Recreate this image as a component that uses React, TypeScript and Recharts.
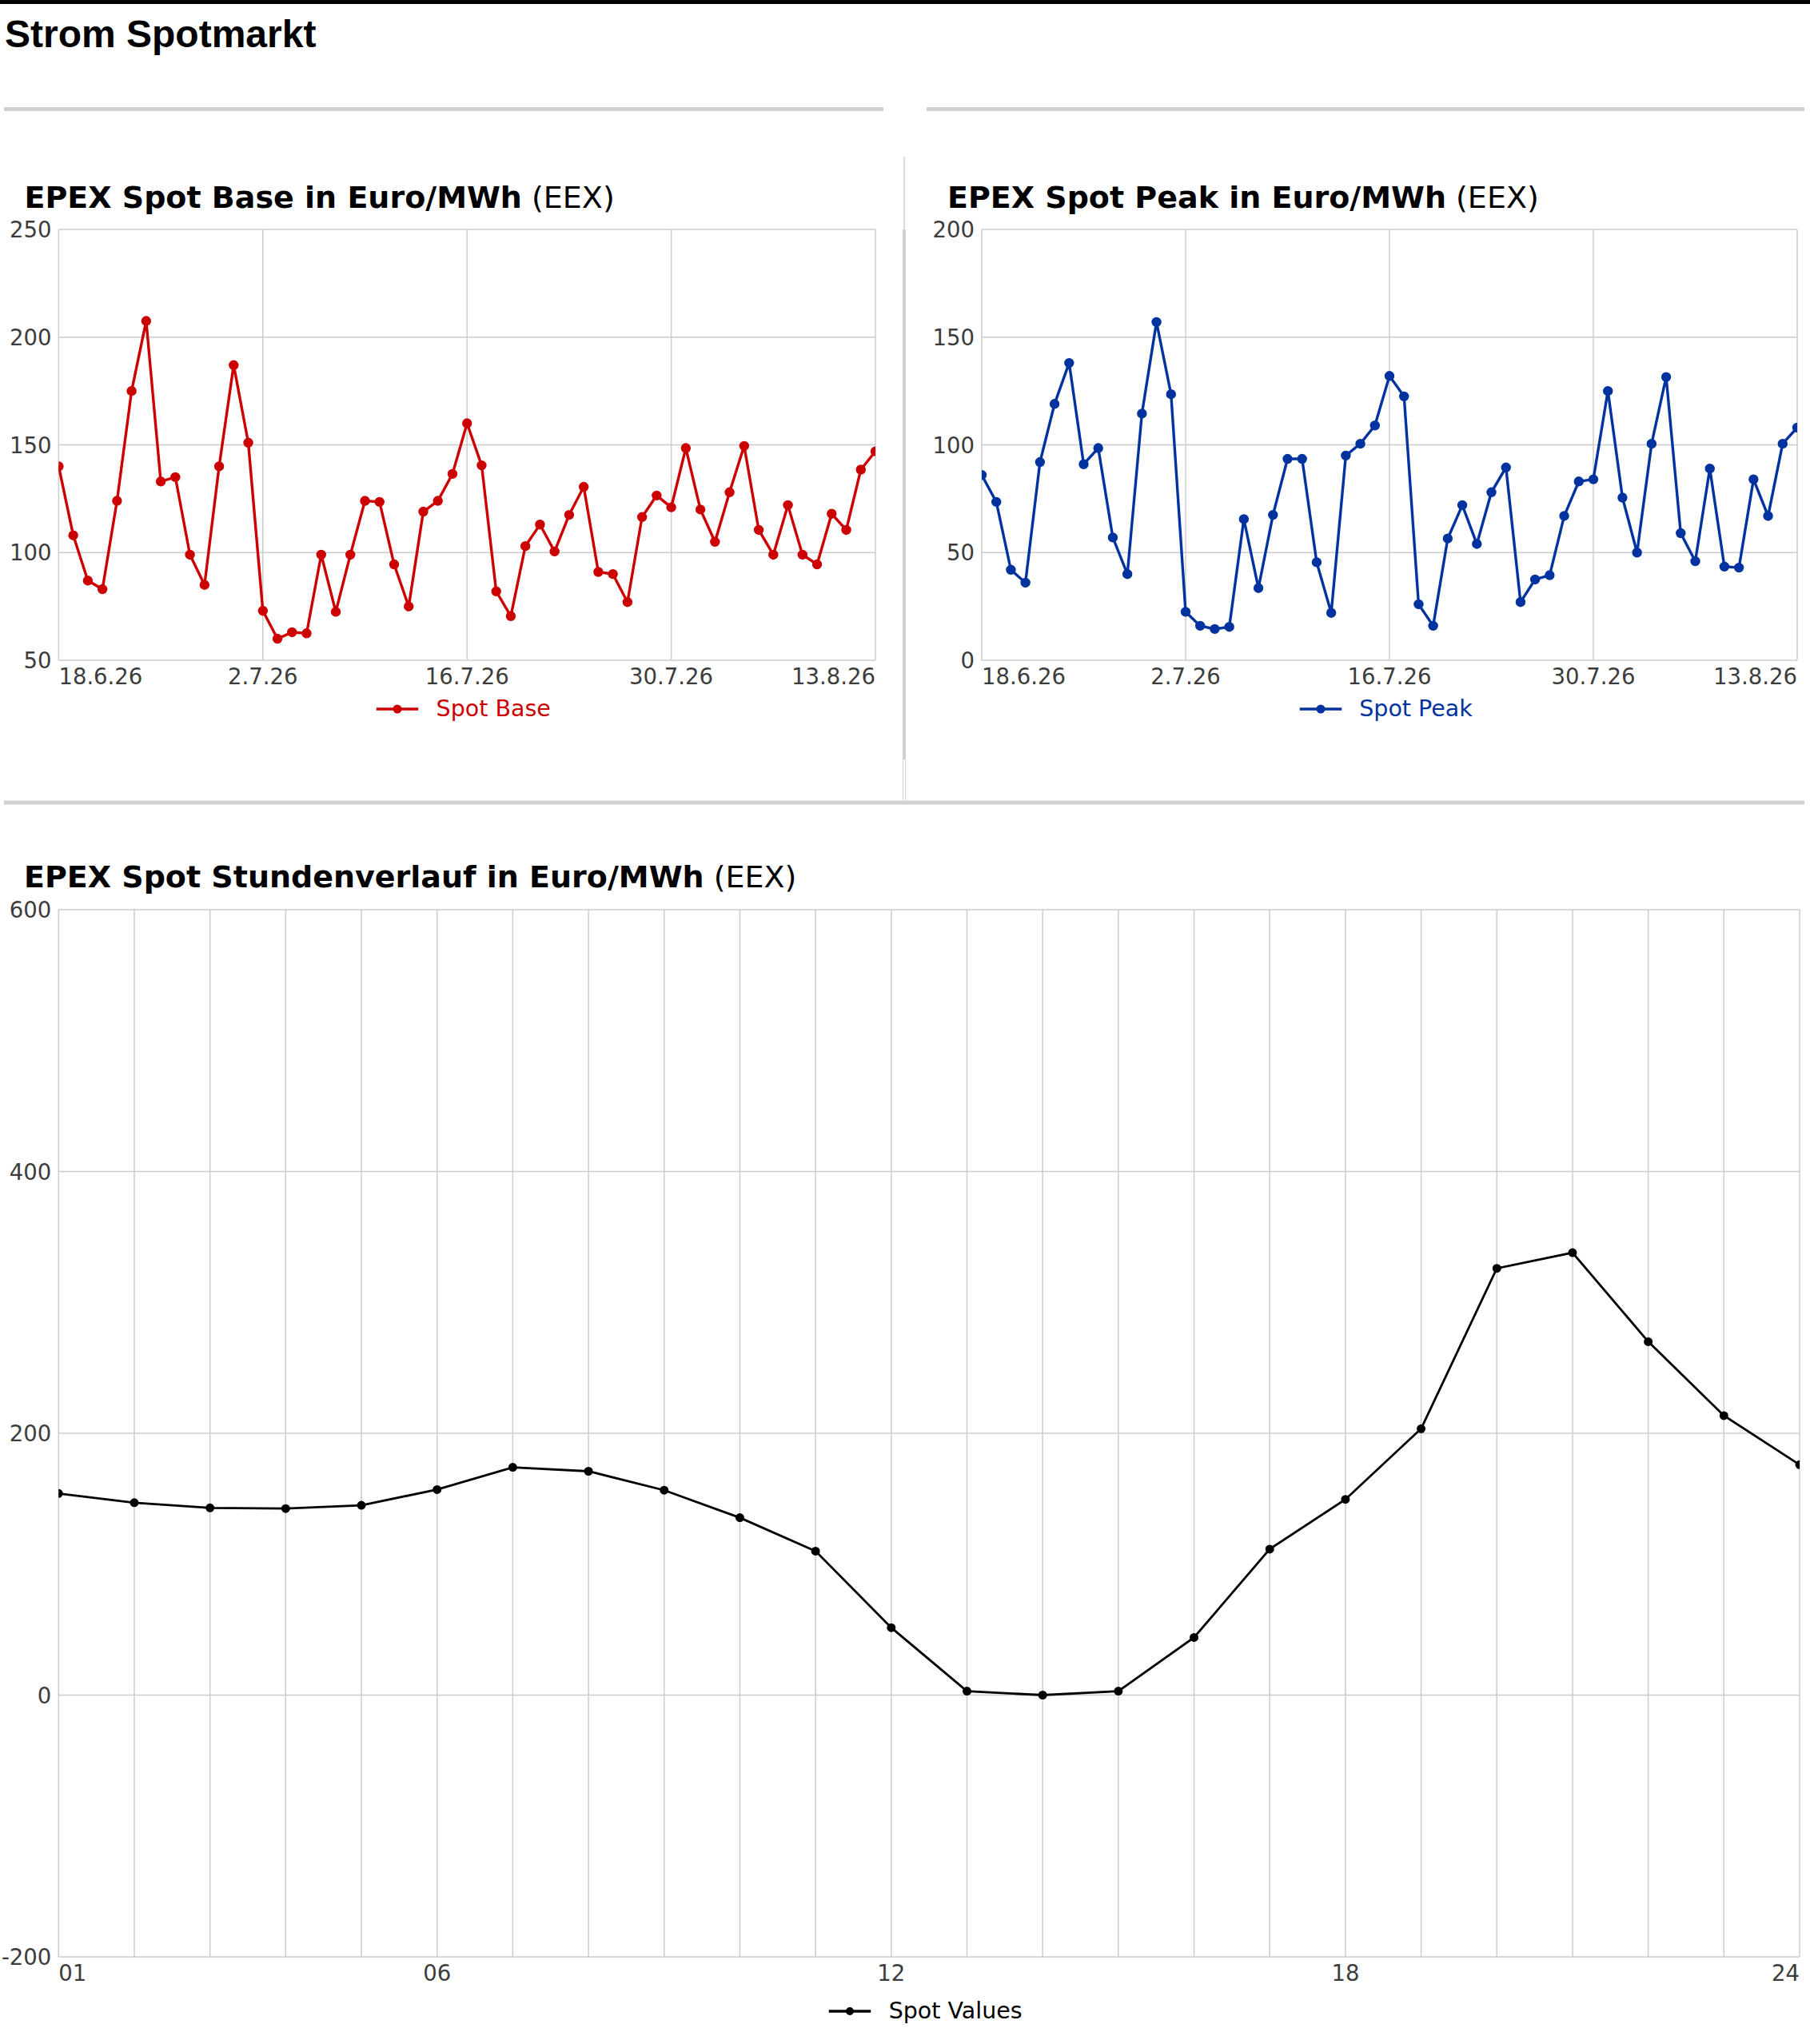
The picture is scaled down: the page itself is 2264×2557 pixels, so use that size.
import React from 'react';
import { LineChart, Line, XAxis, YAxis, CartesianGrid, Legend } from 'recharts';

// ---------- data ----------
const DATES = [
  '18.6.26', '19.6.26', '20.6.26', '21.6.26', '22.6.26', '23.6.26', '24.6.26', '25.6.26', '26.6.26', '27.6.26',
  '28.6.26', '29.6.26', '30.6.26', '1.7.26', '2.7.26', '3.7.26', '4.7.26', '5.7.26', '6.7.26', '7.7.26',
  '8.7.26', '9.7.26', '10.7.26', '11.7.26', '12.7.26', '13.7.26', '14.7.26', '15.7.26', '16.7.26', '17.7.26',
  '18.7.26', '19.7.26', '20.7.26', '21.7.26', '22.7.26', '23.7.26', '24.7.26', '25.7.26', '26.7.26', '27.7.26',
  '28.7.26', '29.7.26', '30.7.26', '31.7.26', '1.8.26', '2.8.26', '3.8.26', '4.8.26', '5.8.26', '6.8.26',
  '7.8.26', '8.8.26', '9.8.26', '10.8.26', '11.8.26', '12.8.26', '13.8.26',
];

const SPOT_BASE = [
  140, 108, 87, 83, 124, 175, 207.5, 133, 135, 99,
  85, 140, 187, 151, 73, 60, 63, 62.5, 99, 72.5,
  99, 124, 123.5, 94.5, 75, 119, 124, 136.5, 160, 140.5,
  82, 70.5, 103, 113, 100.5, 117.5, 130.5, 91, 90, 77,
  116.5, 126.5, 121, 148.5, 120, 105, 128, 149.5, 110.5, 99,
  122, 99, 94.5, 118, 110.5, 138.5, 147,
];

const SPOT_PEAK = [
  86, 73.5, 42, 36, 92, 119, 138, 91, 98.5, 57,
  40, 114.5, 157, 123.5, 22.5, 16, 14.5, 15.5, 65.5, 33.5,
  67.5, 93.5, 93.5, 45.5, 22, 95, 100.5, 109, 132, 122.5,
  26, 16, 56.5, 72, 54, 78, 89.5, 27, 37.5, 39.5,
  67, 83, 84, 125, 75.5, 50, 100.5, 131.5, 59, 46,
  89, 43.5, 43, 84, 67, 100.5, 108,
];

const DATE_TICKS = ['18.6.26', '2.7.26', '16.7.26', '30.7.26', '13.8.26'];
const BASE_TICKS = [50, 100, 150, 200, 250];
const PEAK_TICKS = [0, 50, 100, 150, 200];

const HOURS = [
  '01', '02', '03', '04', '05', '06', '07', '08', '09', '10', '11', '12',
  '13', '14', '15', '16', '17', '18', '19', '20', '21', '22', '23', '24',
];
const SPOT_VALUES = [
  154, 147, 143, 142.5, 145, 157, 174, 171, 156.5, 135.5, 110, 51.5,
  3, 0, 3, 44, 111.5, 149.5, 203.5, 326, 338, 270, 213.5, 176,
];
const HOUR_LABELS = ['01', '06', '12', '18', '24'];
const HOURLY_TICKS = [-200, 0, 200, 400, 600];

// ---------- styles ----------
const FONT = "'DejaVu Sans', sans-serif";
const TICK_COLOR = '#3c3c3c';
const TICK_SIZE = 27.5;
const LEGEND_SIZE = 28.5;
const GRID = '#cccccc';
const SEP = '#d0d0d0';
const RED = '#cc0000';
const BLUE = '#00339f';
const BLACK = '#000000';

const dailyData = DATES.map((d, i) => ({ date: d, base: SPOT_BASE[i], peak: SPOT_PEAK[i] }));
const hourlyData = HOURS.map((h, i) => ({ hour: h, value: SPOT_VALUES[i] }));

function makeXTick(all: string[], shown?: string[]) {
  const first = all[0];
  const last = all[all.length - 1];
  return (props: any) => {
    const { x, y, payload } = props;
    const v = String(payload.value);
    if (shown && !shown.includes(v)) return <g />;
    const anchor = v === first ? 'start' : v === last ? 'end' : 'middle';
    return (
      <text x={x} y={y + 29.5} textAnchor={anchor} fontFamily={FONT} fontSize={TICK_SIZE} fill={TICK_COLOR}>
        {v}
      </text>
    );
  };
}

const YTick = (props: any) => {
  const { x, y, payload } = props;
  return (
    <text x={x} y={y + 10} textAnchor="end" fontFamily={FONT} fontSize={TICK_SIZE} fill={TICK_COLOR}>
      {payload.value}
    </text>
  );
};

function makeLegend(label: string, color: string, textColor: string, r: number) {
  return () => (
    <div
      style={{
        display: 'flex',
        justifyContent: 'center',
        alignItems: 'center',
        height: 40,
        transform: 'translateX(-4.5px)',
      }}
    >
      <svg width={53} height={40} style={{ display: 'block' }}>
        <line x1={0} y1={20} x2={53} y2={20} stroke={color} strokeWidth={3.3} />
        <circle cx={26.5} cy={20} r={r} fill={color} />
      </svg>
      <span
        style={{
          marginLeft: 22,
          fontFamily: FONT,
          fontSize: LEGEND_SIZE,
          color: textColor,
          lineHeight: '40px',
          whiteSpace: 'nowrap',
        }}
      >
        {label}
      </span>
    </div>
  );
}

const DailyChart = (props: {
  dataKey: string;
  name: string;
  color: string;
  domain: [number, number];
  ticks: number[];
  width: number;
  height: number;
  yWidth: number;
  marginRight: number;
  marginTop: number;
  legendTop: number;
}) => {
  const plotW = props.width - props.yWidth - props.marginRight;
  return (
    <LineChart
      width={props.width}
      height={props.height}
      data={dailyData}
      margin={{ top: props.marginTop, right: props.marginRight, left: 0, bottom: 14 }}
    >
      <CartesianGrid stroke={GRID} strokeWidth={1.5} />
      <XAxis
        dataKey="date"
        type="category"
        ticks={DATE_TICKS}
        interval={0}
        height={40}
        tickSize={0}
        tickMargin={0}
        axisLine={false}
        tickLine={false}
        allowDataOverflow
        tick={makeXTick(DATES)}
      />
      <YAxis
        type="number"
        domain={props.domain}
        ticks={props.ticks}
        width={props.yWidth}
        tickSize={0}
        tickMargin={9}
        axisLine={false}
        tickLine={false}
        allowDataOverflow
        tick={YTick}
      />
      <Legend
        verticalAlign="bottom"
        content={makeLegend(props.name, props.color, props.color, 5.5)}
        wrapperStyle={{ left: props.yWidth, width: plotW, top: props.legendTop, height: 40 }}
      />
      <Line
        type="linear"
        dataKey={props.dataKey}
        name={props.name}
        stroke={props.color}
        strokeWidth={3.4}
        dot={{ r: 5.2, fill: props.color, stroke: props.color, strokeWidth: 2 }}
        activeDot={false}
        isAnimationActive={false}
      />
    </LineChart>
  );
};

export default function App() {
  return (
    <div
      style={{
        position: 'absolute',
        left: 0,
        top: 0,
        width: 2264,
        height: 2557,
        background: '#ffffff',
        overflow: 'hidden',
      }}
    >
      <svg width={2264} height={2557} style={{ position: 'absolute', left: 0, top: 0 }}>
        <rect x={0} y={0} width={2264} height={5} fill="#000" />
        <text
          x={6}
          y={59}
          fontFamily="'Liberation Sans', Arial, sans-serif"
          fontWeight="bold"
          fontSize={48}
          fill="#000"
        >
          Strom Spotmarkt
        </text>
        <rect x={5} y={134} width={1100} height={5} fill={SEP} />
        <rect x={1159} y={134} width={1098} height={5} fill={SEP} />
        <rect x={1130.3} y={196} width={1.5} height={91} fill={SEP} />
        <rect x={1129} y={287} width={4} height={663} fill={SEP} />
        <rect x={1129} y={950} width={1} height={51} fill={SEP} />
        <rect x={1132} y={950} width={1} height={51} fill={SEP} />
        <rect x={5} y={1001.5} width={2252} height={5} fill={SEP} />
        <text x={30.5} y={260} fontFamily={FONT} fontSize={38} fill="#000">
          <tspan fontWeight="bold">EPEX Spot Base in Euro/MWh</tspan>
          <tspan> (EEX)</tspan>
        </text>
        <text x={1185} y={260} fontFamily={FONT} fontSize={38} fill="#000">
          <tspan fontWeight="bold">EPEX Spot Peak in Euro/MWh</tspan>
          <tspan> (EEX)</tspan>
        </text>
        <text x={30} y={1110} fontFamily={FONT} fontSize={38} fill="#000">
          <tspan fontWeight="bold">EPEX Spot Stundenverlauf in Euro/MWh</tspan>
          <tspan> (EEX)</tspan>
        </text>
      </svg>

      <div style={{ position: 'absolute', left: 0, top: 200 }}>
        <DailyChart
          dataKey="base"
          name="Spot Base"
          color={RED}
          domain={[50, 250]}
          ticks={BASE_TICKS}
          width={1120}
          height={720}
          yWidth={73.4}
          marginRight={25}
          marginTop={87}
          legendTop={666.5}
        />
      </div>

      <div style={{ position: 'absolute', left: 1140, top: 200 }}>
        <DailyChart
          dataKey="peak"
          name="Spot Peak"
          color={BLUE}
          domain={[0, 200]}
          ticks={PEAK_TICKS}
          width={1120}
          height={720}
          yWidth={88}
          marginRight={12}
          marginTop={87}
          legendTop={666.5}
        />
      </div>

      <div style={{ position: 'absolute', left: 0, top: 1040 }}>
        <LineChart
          width={2264}
          height={1517}
          data={hourlyData}
          margin={{ top: 98, right: 13, left: 0, bottom: 29 }}
        >
          <CartesianGrid stroke={GRID} strokeWidth={1.5} />
          <XAxis
            dataKey="hour"
            type="category"
            interval={0}
            height={40}
            tickSize={0}
            tickMargin={0}
            axisLine={false}
            tickLine={false}
            allowDataOverflow
            tick={makeXTick(HOURS, HOUR_LABELS)}
          />
          <YAxis
            type="number"
            domain={[-200, 600]}
            ticks={HOURLY_TICKS}
            width={73.3}
            tickSize={0}
            tickMargin={9}
            axisLine={false}
            tickLine={false}
            allowDataOverflow
            tick={YTick}
          />
          <Legend
            verticalAlign="bottom"
            content={makeLegend('Spot Values', BLACK, '#000', 5)}
            wrapperStyle={{ left: 73.3, width: 2264 - 73.3 - 13, top: 1455.5, height: 40 }}
          />
          <Line
            type="linear"
            dataKey="value"
            name="Spot Values"
            stroke={BLACK}
            strokeWidth={2.8}
            dot={{ r: 4.5, fill: BLACK, stroke: BLACK, strokeWidth: 2 }}
            activeDot={false}
            isAnimationActive={false}
          />
        </LineChart>
      </div>
    </div>
  );
}
